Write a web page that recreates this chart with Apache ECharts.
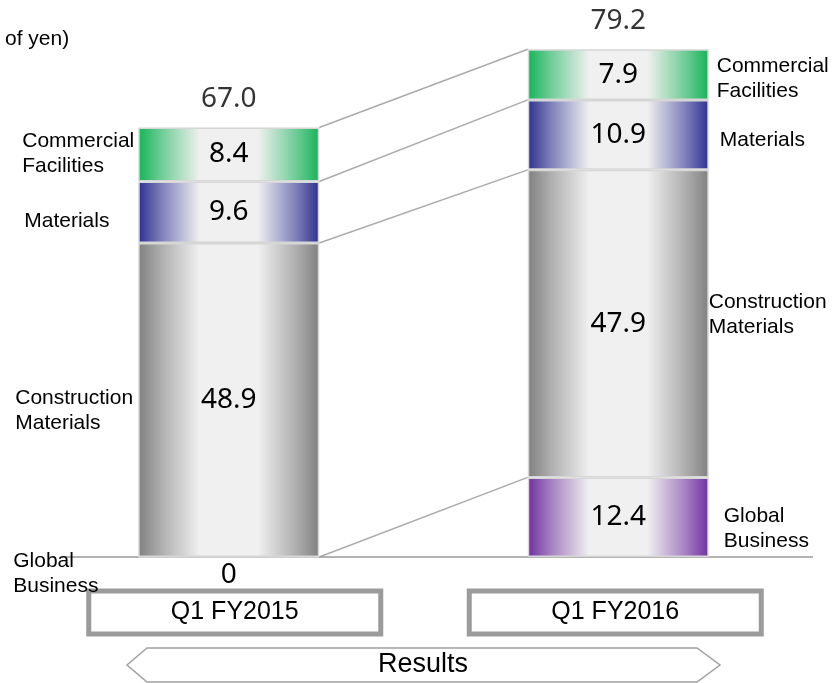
<!DOCTYPE html>
<html>
<head>
<meta charset="utf-8">
<script src="https://cdn.jsdelivr.net/npm/echarts@6/dist/echarts.min.js"></script>
<style>
  html, body { margin: 0; padding: 0; background: #fff; }
  #chart { width: 832px; height: 683px; }
</style>
</head>
<body>
<div id="chart"></div>
<script>
// Net sales by segment (billions of yen)
const categories = ['Q1 FY2015', 'Q1 FY2016'];
const segmentNames = ['Global\nBusiness', 'Construction\nMaterials', 'Materials', 'Commercial\nFacilities'];
const globalBusiness = [0, 12.4];
const constructionMaterials = [48.9, 47.9];
const materials = [9.6, 10.9];
const commercialFacilities = [8.4, 7.9];
const totals = [67.0, 79.2];
const unitText = 'of yen)';
const bandText = 'Results';

// Styling
const LABEL_FONT = '"Liberation Sans", Arial, sans-serif';
const VALUE_FONT = '"Noto Sans", "Open Sans", sans-serif';
const BAR_W = 181;
const segmentColors = ['#7030a0', '#808080', '#2e3192', '#14b457'];
// segment name placement: [x from bar left, vertical nudge] per category
const namePlacement = [
  [[-125, 17], [196, 12]],
  [[-123, 11], [181, -9]],
  [[-114, 9], [192, 5]],
  [[-116, -1], [189, 4]]
];

function mix(hex, t) {
  const c = parseInt(hex.slice(1), 16);
  const r = (c >> 16) & 255, g = (c >> 8) & 255, b = c & 255;
  const m = v => Math.round(v + (240 - v) * t);
  return 'rgb(' + m(r) + ',' + m(g) + ',' + m(b) + ')';
}
function cylinder(hex) {
  return new echarts.graphic.LinearGradient(0, 0, 1, 0, [
    { offset: 0, color: hex },
    { offset: 0.13, color: mix(hex, 0.42) },
    { offset: 0.34, color: mix(hex, 1) },
    { offset: 0.66, color: mix(hex, 1) },
    { offset: 0.87, color: mix(hex, 0.42) },
    { offset: 1, color: hex }
  ]);
}
const fmt = v => (v === 0 ? '0' : v.toFixed(1));

const segments = [globalBusiness, constructionMaterials, materials, commercialFacilities];

const valueSeries = segments.map((vals, s) => ({
  type: 'bar',
  name: segmentNames[s],
  stack: 'values',
  barWidth: BAR_W,
  barGap: '-100%',
  z: 3,
  itemStyle: { color: cylinder(segmentColors[s]), borderColor: '#d6d6d6', borderWidth: 1.5 },
  label: {
    show: true, position: 'inside', formatter: p => fmt(p.value),
    fontFamily: VALUE_FONT, fontSize: 28, color: '#000',
    textBorderWidth: 0
  },
  data: vals.map(v => v === 0
    ? { value: v, label: { position: 'bottom', distance: 3 } }
    : v)
}));

const nameSeries = segments.map((vals, s) => ({
  type: 'bar',
  stack: 'names',
  barWidth: BAR_W,
  barGap: '-100%',
  z: 4,
  silent: true,
  itemStyle: { color: 'rgba(0,0,0,0)', borderWidth: 0 },
  label: {
    show: true, formatter: segmentNames[s],
    fontFamily: LABEL_FONT, fontSize: 21, lineHeight: 25, color: '#000',
    align: 'left', verticalAlign: 'middle'
  },
  data: vals.map((v, c) => ({
    value: v,
    label: { position: [namePlacement[s][c][0], '50%'], offset: [0, namePlacement[s][c][1]] }
  }))
}));

// boundaries between segments, carried from one bar to the next
const boundaries = [];
let accL = 0, accR = 0;
segments.forEach(vals => {
  accL += vals[0]; accR += vals[1];
  boundaries.push([0, +accL.toFixed(1), +accR.toFixed(1)]);
});

const connectorSeries = {
  type: 'custom',
  z: 1,
  silent: true,
  encode: { x: 0, y: [1, 2] },
  renderItem: function (params, api) {
    const a = api.coord([0, api.value(1)]);
    const b = api.coord([1, api.value(2)]);
    const half = BAR_W / 2;
    const children = [{
      type: 'line',
      shape: { x1: a[0] + half, y1: a[1], x2: b[0] - half, y2: b[1] },
      style: { stroke: '#ababab', lineWidth: 1.5 }
    }];
    if (params.dataIndex === 0) {
      const o = api.coord([0, 0]);
      const e = api.coord([1, 0]);
      const band = api.size([1, 0])[0];
      children.push({
        type: 'line',
        shape: { x1: o[0] - half - 76, y1: o[1], x2: e[0] + band / 2, y2: e[1] },
        style: { stroke: '#9a9a9a', lineWidth: 1.5 }
      });
    }
    return { type: 'group', children: children };
  },
  data: boundaries
};

const totalSeries = {
  type: 'scatter',
  symbolSize: 1,
  z: 5,
  silent: true,
  itemStyle: { color: 'rgba(0,0,0,0)' },
  label: {
    show: true, position: 'top', distance: 13, formatter: p => fmt(p.value[1]),
    fontFamily: VALUE_FONT, fontSize: 28, color: '#000'
  },
  data: totals.map((t, i) => [i, t])
};

const boxStyle = {
  width: 292, height: 43, lineHeight: 43, align: 'center',
  borderColor: '#9b9b9b', borderWidth: 5,
  fontFamily: LABEL_FONT, fontSize: 25, color: '#000'
};

const chart = echarts.init(document.getElementById('chart'), null, { renderer: 'canvas' });
chart.setOption({
  backgroundColor: '#ffffff',
  animation: false,
  title: {
    text: unitText, left: 5, top: 29, padding: 0,
    textStyle: { fontFamily: LABEL_FONT, fontSize: 21, fontWeight: 'normal', color: '#000' }
  },
  grid: { left: 34, right: 19, top: 43.4, bottom: 126 },
  xAxis: {
    type: 'category',
    data: categories,
    axisLine: { show: false },
    axisTick: { show: false },
    axisLabel: {
      interval: 0, margin: 34,
      // spacer tokens nudge each framed label slightly off the bar centre
      formatter: (v, i) => (i === 0 ? '{padA|}{box|' + v + '}' : '{box|' + v + '}{padB|}'),
      rich: {
        box: boxStyle,
        padA: { width: 12, height: 43 },
        padB: { width: 6, height: 43 }
      }
    }
  },
  yAxis: { type: 'value', min: 0, max: 80, show: false },
  series: [connectorSeries].concat(valueSeries, nameSeries, [totalSeries]),
  graphic: [{
    type: 'polygon',
    shape: { points: [[127, 665], [147, 648], [697, 648], [720, 665], [697, 682], [147, 682]] },
    style: { fill: '#fff', stroke: '#a0a0a0', lineWidth: 1.5 },
    z: 10
  }, {
    type: 'text',
    x: 423, y: 665,
    style: {
      text: bandText, fontFamily: LABEL_FONT, fontSize: 27, fill: '#000',
      align: 'center', verticalAlign: 'middle'
    },
    z: 11
  }]
});
</script>
</body>
</html>
